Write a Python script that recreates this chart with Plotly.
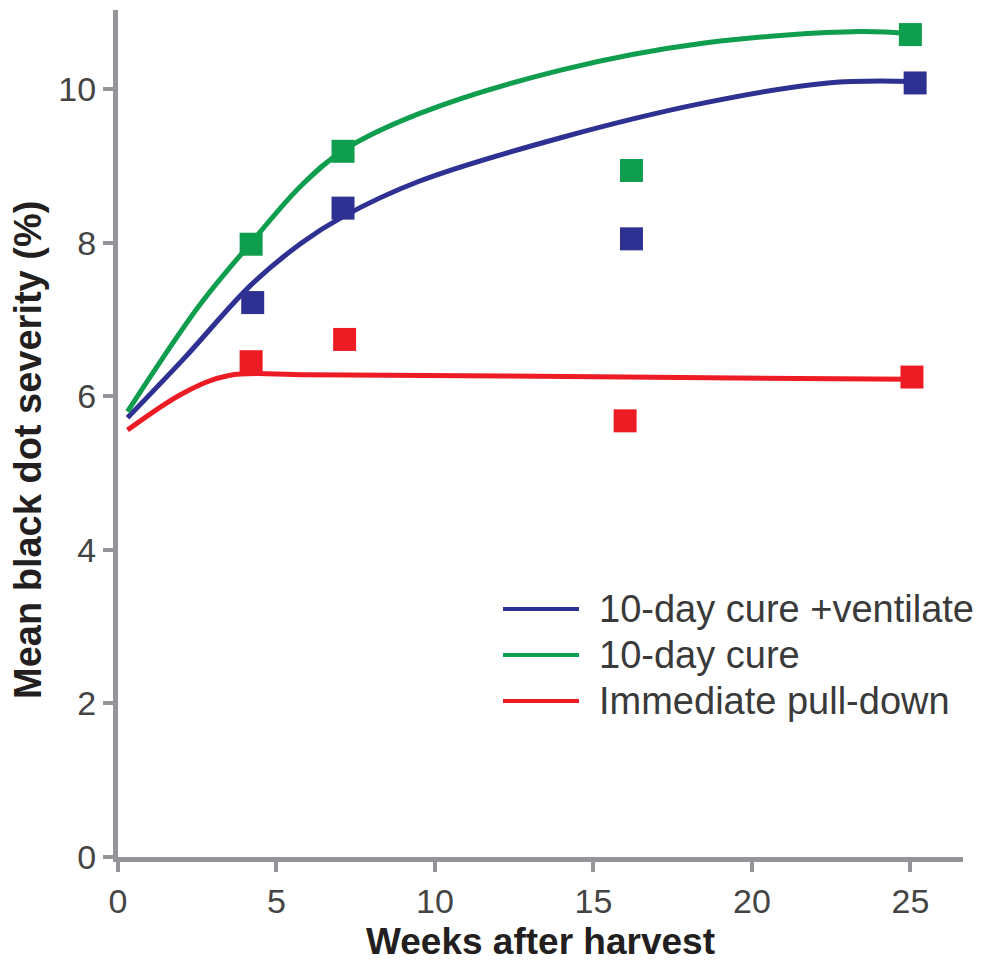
import plotly.graph_objects as go

# ---- data ----
weeks_pts = {
    "blue": [4.25, 7.1, 16.2, 25.15],
    "green": [4.2, 7.1, 16.2, 25.0],
    "red": [4.2, 7.15, 16.0, 25.05],
}
severity_pts = {
    "blue": [7.22, 8.45, 8.05, 10.08],
    "green": [7.98, 9.19, 8.94, 10.71],
    "red": [6.45, 6.74, 5.68, 6.25],
}
# fitted curves
curve_x_blue = [0.3, 2.1, 4.2, 5.8, 7.1, 9.5, 14.0, 18.5, 22.4, 25.0]
curve_y_blue = [5.72, 6.5, 7.45, 8.0, 8.34, 8.8, 9.37, 9.82, 10.08, 10.1]
curve_x_green = [0.3, 2.6, 4.2, 5.8, 7.1, 9.5, 14.0, 18.5, 23.4, 25.0]
curve_y_green = [5.8, 7.2, 8.0, 8.75, 9.2, 9.68, 10.25, 10.6, 10.75, 10.72]
curve_x_red = [0.3, 2.1, 3.5, 6.0, 16.0, 25.0]
curve_y_red = [5.56, 6.05, 6.27, 6.28, 6.25, 6.22]

series_names = ["10-day cure +ventilate", "10-day cure", "Immediate pull-down"]
series_keys = ["blue", "green", "red"]
colors = {"blue": "#2e3192", "green": "#0f9d4e", "red": "#ed1c24"}
curves = {
    "blue": (curve_x_blue, curve_y_blue),
    "green": (curve_x_green, curve_y_green),
    "red": (curve_x_red, curve_y_red),
}

x_ticks = [0, 5, 10, 15, 20, 25]
y_ticks = [0, 2, 4, 6, 8, 10]

FONT = "Liberation Sans, Arial, Helvetica, sans-serif"
AXIS_GREY = "#939598"

fig = go.Figure()
for key, name in zip(series_keys, series_names):
    cx, cy = curves[key]
    fig.add_trace(go.Scatter(
        x=cx, y=cy, mode="lines", name=name,
        line=dict(color=colors[key], width=5, shape="spline", smoothing=1.0),
        showlegend=False,
    ))
for key, name in zip(series_keys, series_names):
    fig.add_trace(go.Scatter(
        x=weeks_pts[key], y=severity_pts[key], mode="markers", name=name,
        marker=dict(symbol="square", size=23, color=colors[key]),
        showlegend=False,
    ))

# manual legend (long line samples as in the original)
legend_rows_y = [609, 655, 701]  # pixel rows
W, H = 982, 963
ml, mr, mt, mb = 118, 19, 10, 106
pw, ph = W - ml - mr, H - mt - mb

def px_x(p):
    return (p - ml) / pw

def px_y(p):
    return (H - mb - p) / ph

shapes = []
annotations = []
for key, name, ry in zip(series_keys, series_names, legend_rows_y):
    shapes.append(dict(type="line", xref="paper", yref="paper",
                       x0=px_x(503), x1=px_x(579), y0=px_y(ry), y1=px_y(ry),
                       line=dict(color=colors[key], width=4)))
    annotations.append(dict(xref="paper", yref="paper", x=px_x(597), y=px_y(ry),
                            xanchor="left", yanchor="middle", showarrow=False,
                            text=name, font=dict(family=FONT, size=38, color="#3a3a3a")))

annotations.append(dict(xref="paper", yref="paper", x=0.5, y=px_y(941),
                        xanchor="center", yanchor="middle", showarrow=False,
                        text="<b>Weeks after harvest</b>",
                        font=dict(family=FONT, size=37, color="#231f20")))
annotations.append(dict(xref="paper", yref="paper", x=px_x(28), y=px_y(450),
                        xanchor="center", yanchor="middle", showarrow=False, textangle=-90,
                        text="<b>Mean black dot severity (%)</b>",
                        font=dict(family=FONT, size=38, color="#231f20")))

fig.update_layout(
    width=W, height=H,
    margin=dict(l=ml, r=mr, t=mt, b=mb, pad=0),
    paper_bgcolor="white", plot_bgcolor="white",
    shapes=shapes, annotations=annotations,
    xaxis=dict(range=[0, 26.66], tickvals=x_ticks, ticktext=[str(v) for v in x_ticks],
               showgrid=False, zeroline=False, showline=True, linecolor=AXIS_GREY, linewidth=5,
               ticks="outside", ticklen=10, tickwidth=4, tickcolor=AXIS_GREY,
               tickfont=dict(family=FONT, size=34, color="#444444")),
    yaxis=dict(range=[0, 11.03], tickvals=y_ticks, ticktext=[str(v) for v in y_ticks],
               showgrid=False, zeroline=False, showline=True, linecolor=AXIS_GREY, linewidth=5,
               ticks="outside", ticklen=10, tickwidth=4, tickcolor=AXIS_GREY,
               tickfont=dict(family=FONT, size=34, color="#444444")),
    showlegend=False,
)

fig.write_html("out.html")
